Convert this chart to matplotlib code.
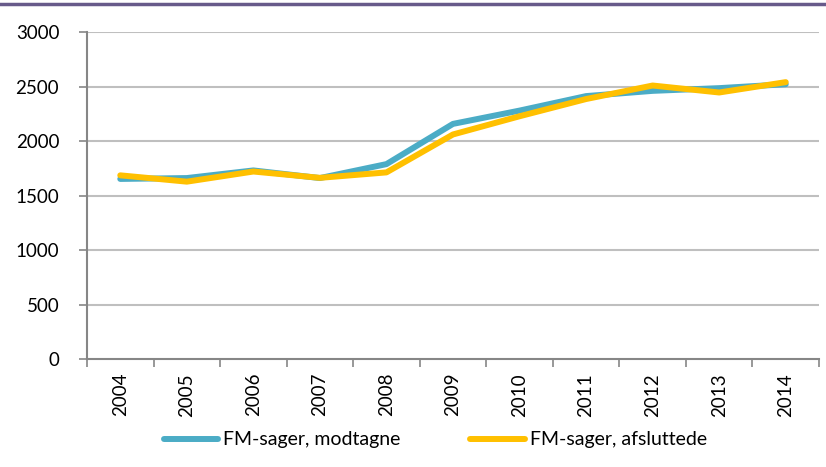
import matplotlib.pyplot as plt
from matplotlib.lines import Line2D

# data
years = ["2004", "2005", "2006", "2007", "2008", "2009", "2010", "2011", "2012", "2013", "2014"]
modtagne = [1652, 1660, 1730, 1660, 1788, 2157, 2279, 2412, 2460, 2485, 2521]
afsluttede = [1685, 1627, 1720, 1662, 1712, 2060, 2227, 2385, 2509, 2445, 2540]
yticks = [0, 500, 1000, 1500, 2000, 2500, 3000]

blue = "#4BACC6"
yellow = "#FFC000"
grid_col = "#BFBFBF"
axis_col = "#868686"

plt.rcParams['font.family'] = ['Lato', 'DejaVu Sans']

fig = plt.figure(figsize=(8.26, 4.67), dpi=100)
ax = fig.add_axes([87 / 826, 1 - 359 / 467, (819 - 87) / 826, (359 - 32) / 467])

x = list(range(len(years)))
ax.plot(x, modtagne, color=blue, lw=4.3, solid_capstyle='round', solid_joinstyle='round', zorder=3)
ax.plot(x, afsluttede, color=yellow, lw=4.3, solid_capstyle='round', solid_joinstyle='round', zorder=4)

ax.set_xlim(-0.5, len(years) - 0.5)
ax.set_ylim(0, 3000)
ax.set_yticks(yticks)
ax.set_yticklabels([str(v) for v in yticks], fontsize=13.5)
for v in yticks[1:]:
    ax.axhline(v, color=grid_col, lw=1.5, zorder=1)

ax.set_xticks(x)
ax.set_xticklabels(years, rotation=90, fontsize=13.5)
ax.set_xticks([i - 0.5 for i in range(len(years) + 1)], minor=True)
ax.tick_params(axis='x', which='major', length=0, pad=10)
ax.tick_params(axis='x', which='minor', length=6, color=axis_col, width=1.2)
ax.tick_params(axis='y', length=6, color=axis_col, width=1.2, pad=14)

for side in ['top', 'right']:
    ax.spines[side].set_visible(False)
for side in ['left', 'bottom']:
    ax.spines[side].set_color(axis_col)
    ax.spines[side].set_linewidth(1.5)

# purple rule along the top
fig.add_artist(Line2D([0, 1], [1 - 4 / 467, 1 - 4 / 467], color="#675A8A", lw=2.5, transform=fig.transFigure))

handles = [Line2D([], [], color=blue, lw=4.3, solid_capstyle='round'),
           Line2D([], [], color=yellow, lw=4.3, solid_capstyle='round')]
fig.legend(handles, ["FM-sager, modtagne", "FM-sager, afsluttede"], loc='center',
           bbox_to_anchor=(0.527, 1 - 440 / 467), ncol=2, frameon=False, fontsize=14,
           handlelength=2.8, handletextpad=0.25, columnspacing=3.6)

fig.savefig("out.png", dpi=100)
